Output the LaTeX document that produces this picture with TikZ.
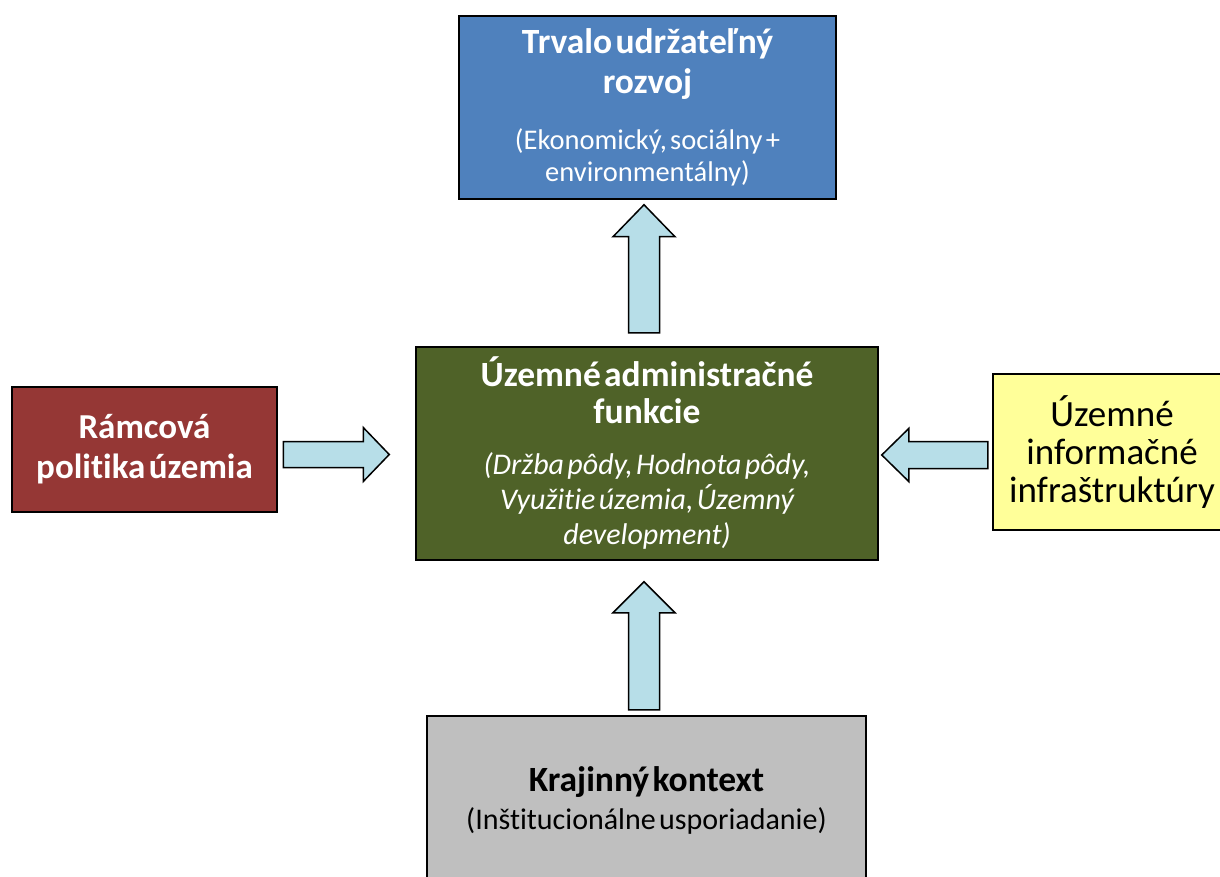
\documentclass[tikz,border=0pt]{standalone}
\usepackage{fontspec}
\setmainfont{Carlito}[Ligatures=NoCommon, WordSpace=1.5]
\usetikzlibrary{calc}

\definecolor{sustblue}{HTML}{4F81BD}
\definecolor{admingreen}{HTML}{4F6228}
\definecolor{policyred}{HTML}{953735}
\definecolor{infoyellow}{HTML}{FFFF99}
\definecolor{contextgray}{HTML}{BFBFBF}
\definecolor{arrowblue}{HTML}{B7DEE8}

\tikzset{
  box/.style={draw=black, line width=2.5pt, rectangle, inner sep=0pt},
  arrowbody/.style={fill=arrowblue, draw=black, line width=1.5pt, line join=miter},
  pics/blockarrow/.style n args={4}{code={
    \draw[arrowbody] (0,-#2) -- (#1-#4,-#2) -- (#1-#4,-#3) -- (#1,0)
      -- (#1-#4,#3) -- (#1-#4,#2) -- (0,#2) -- cycle;
  }},
}

\begin{document}
\begin{tikzpicture}[x=1pt, y=1pt]
    \clip (0,0) rectangle (1220,-877);
    \useasboundingbox (0,0) rectangle (1220,-877);

    % boxes
    \node[box, fill=sustblue, text=white, minimum width=377pt, minimum height=183pt,
          text width=370pt, align=center] (sust) at (647.5,-107.5)
      {\fontsize{35.5}{40}\selectfont\bfseries Trvalo udržateľný\\ rozvoj\par
       \vspace{24pt}\fontsize{28.5}{32}\selectfont\mdseries (Ekonomický, sociálny +\\ environmentálny)\par};

    \node[box, fill=admingreen, text=white, minimum width=462pt, minimum height=213pt,
          text width=455pt, align=center] (admin) at (647,-453.5)
      {\fontsize{35.5}{37}\selectfont\bfseries Územné administračné\\ funkcie\par
       \vspace{16pt}\fontsize{30}{35}\selectfont\mdseries\itshape (Držba pôdy, Hodnota pôdy,\\ Využitie územia, Územný\\ development)\par};

    \node[box, fill=policyred, text=white, minimum width=265pt, minimum height=125pt,
          text width=260pt, align=center] (polit) at (144.5,-449.5)
      {\fontsize{35}{40}\selectfont\bfseries Rámcová\\ politika územia\par};

    \node[box, fill=infoyellow, text=black, minimum width=238pt, minimum height=156pt,
          text width=230pt, align=center] (infra) at (1112,-452)
      {\fontsize{37}{38}\selectfont Územné\\ informačné\\ infraštruktúry\par};

    \node[box, fill=contextgray, text=black, minimum width=439pt, minimum height=168pt,
          text width=430pt, align=center] (context) at (646.5,-800)
      {\fontsize{35.5}{38}\selectfont\bfseries Krajinný kontext\par
       \fontsize{30}{38}\selectfont\mdseries (Inštitucionálne usporiadanie)\par};

    % arrows
    \pic[rotate=90] at ($(admin.north)+(-3,13)$) {blockarrow={128}{15.5}{31}{32}};
    \pic[rotate=90] at ($(context.north)+(-2.5,5)$) {blockarrow={128}{15.5}{31}{31}};
    \pic at ($(polit.east)+(5,-5)$) {blockarrow={106}{13}{27}{26}};
    \pic[rotate=180] at ($(infra.west)+(-4,-3)$) {blockarrow={106}{13.5}{26.5}{27}};
\end{tikzpicture}
\end{document}
